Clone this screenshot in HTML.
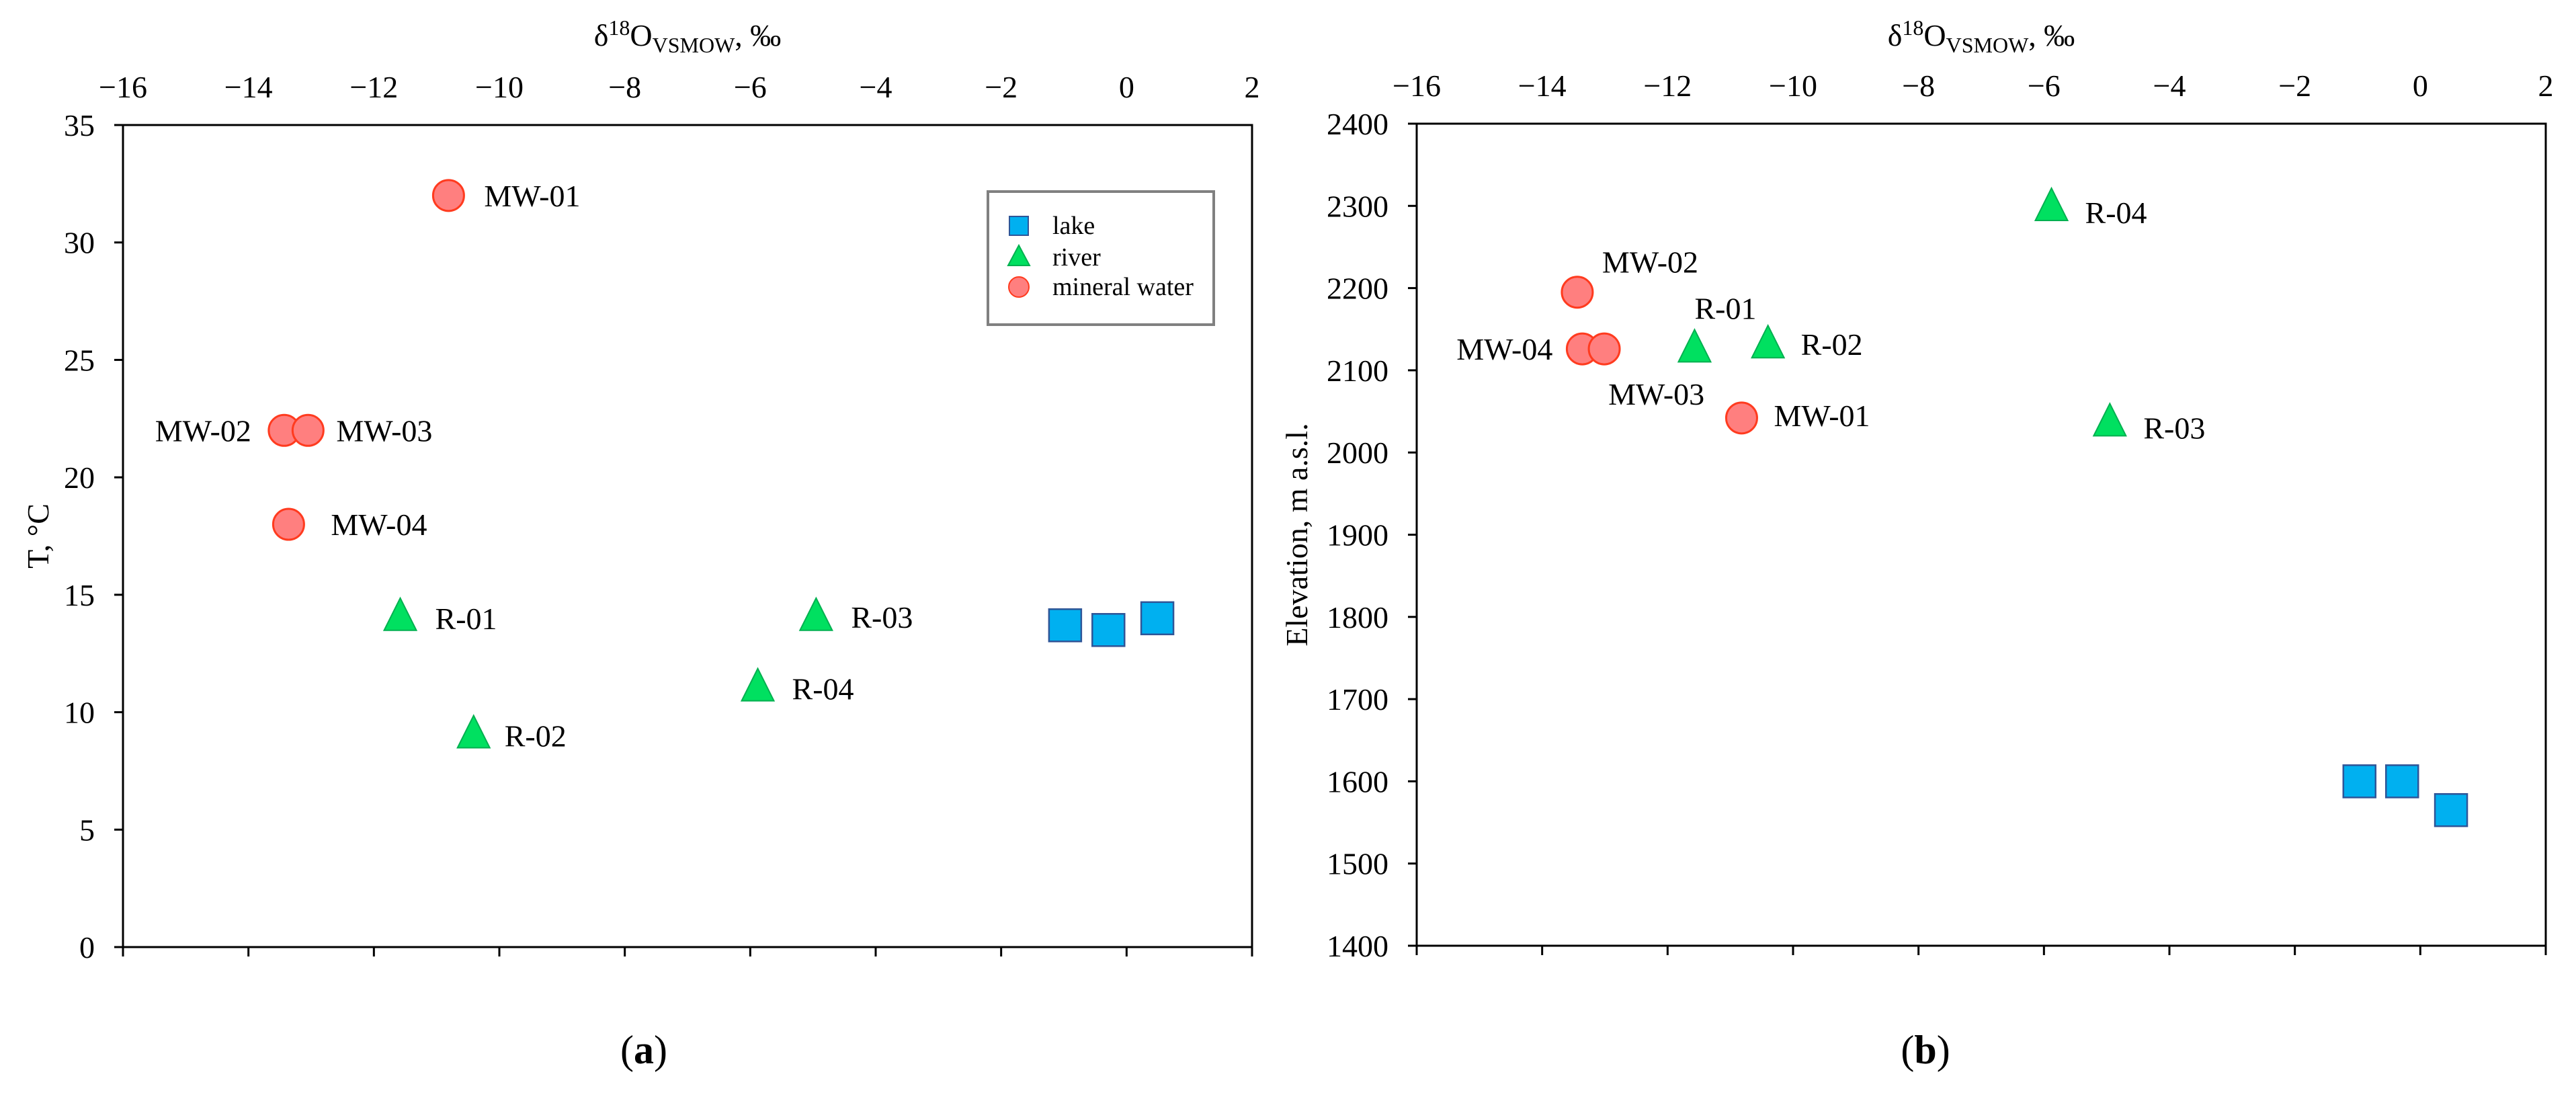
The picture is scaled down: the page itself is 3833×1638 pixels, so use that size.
<!DOCTYPE html>
<html><head><meta charset="utf-8"><style>
html,body{margin:0;padding:0;background:#fff;}
svg{display:block;font-family:"Liberation Serif",serif;}
</style></head><body>
<svg id="fig" width="3833" height="1638" viewBox="0 0 3833 1638" xmlns="http://www.w3.org/2000/svg"></svg>
<script>
// Shared x data
const xTicks=[-16,-14,-12,-10,-8,-6,-4,-2,0,2];
// Panel a data
const aYTicks=[0,5,10,15,20,25,30,35];
const aMwNames=["MW-01","MW-02","MW-03","MW-04"];
const aMwX=[-10.81,-13.43,-13.05,-13.36];
const aMwY=[32,22,22,18];
const aRvNames=["R-01","R-02","R-03","R-04"];
const aRvX=[-11.58,-10.41,-4.95,-5.88];
const aRvY=[14,9,14,11];
const aLakeX=[-0.98,-0.29,0.49];
const aLakeY=[13.7,13.5,14.0];
// Panel b data
const bYTicks=[1400,1500,1600,1700,1800,1900,2000,2100,2200,2300,2400];
const bMwNames=["MW-02","MW-04","MW-03","MW-01"];
const bMwX=[-13.44,-13.36,-13.01,-10.82];
const bMwY=[2195,2126,2126,2042];
const bRvNames=["R-01","R-02","R-04","R-03"];
const bRvX=[-11.57,-10.40,-5.88,-4.95];
const bRvY=[2125,2130,2297,2035];
const bLakeX=[-0.97,-0.29,0.49];
const bLakeY=[1600,1600,1565];

const NS="http://www.w3.org/2000/svg";
const svg=document.getElementById('fig');
function mk(tag,attrs,parent,text){const e=document.createElementNS(NS,tag);for(const k in attrs)e.setAttribute(k,attrs[k]);if(text!==undefined)e.textContent=text;(parent||svg).appendChild(e);return e;}

function panel(o){
  const g=mk('g',{});
  
  
  const sx=v=>o.L+(v-o.xmin)/(o.xmax-o.xmin)*(o.R-o.L);
  const sy=v=>o.B-(v-o.ymin)/(o.ymax-o.ymin)*(o.B-o.T);
  const frame=mk('rect',{x:o.L,y:o.T,width:o.R-o.L,height:o.B-o.T,fill:'none',stroke:'#000','stroke-width':3},g);
  
  
  xTicks.forEach(v=>{
    const x=sx(v);
    const t=mk('line',{x1:x,x2:x,y1:o.B,y2:o.B+14,stroke:'#000','stroke-width':3},g);
    
    
    const lab=mk('text',{x:x,y:o.T-41,'font-size':46,'text-anchor':'middle'},g,v<0?'\u2212'+Math.abs(v):String(v));
    
    
  });
  o.yTicks.forEach(v=>{
    const y=sy(v);
    const t=mk('line',{x1:o.L-13,x2:o.L,y1:y,y2:y,stroke:'#000','stroke-width':3},g);
    
    
    const lab=mk('text',{x:o.L-42,y:y+16,'font-size':46,'text-anchor':'end'},g,String(v));
    
    
  });
  const xt=mk('text',{x:(o.L+o.R)/2,y:68,'font-size':46,'text-anchor':'middle'},g);
  
  
  mk('tspan',{},xt,'δ');
  mk('tspan',{dy:-16,'font-size':32},xt,'18');
  mk('tspan',{dy:16},xt,'O');
  mk('tspan',{dy:10,'font-size':32},xt,'VSMOW');
  mk('tspan',{dy:-10},xt,', ‰');
  const yt=mk('text',{x:0,y:0,'font-size':46,'text-anchor':'middle',transform:`translate(${o.ytx},${(o.T+o.B)/2}) rotate(-90)`},g,o.ytitle);
  
  
  const cap=mk('text',{x:o.capx,y:1582,'font-size':60,'text-anchor':'middle'},g);
  
  
  mk('tspan',{},cap,'(');mk('tspan',{'font-weight':'bold'},cap,o.cap);mk('tspan',{},cap,')');
  // lake
  o.lakeX.forEach((v,i)=>{
    const x=sx(v),y=sy(o.lakeY[i]);
    const r=mk('rect',{x:x-24,y:y-24,width:48,height:48,fill:'#00B0F0',stroke:'#2F5597','stroke-width':2.5},g);
    
    
  });
  // river
  o.rvX.forEach((v,i)=>{
    const x=sx(v),y=sy(o.rvY[i]);
    const p=mk('polygon',{points:`${x},${y-30} ${x-24},${y+18} ${x+24},${y+18}`,fill:'#00E060',stroke:'#00B050','stroke-width':2},g);
    
    
    const d=o.rvOff[i];
    const t=mk('text',{x:x+d[0],y:y+d[1]+16,'font-size':46,'text-anchor':d[2]||'start'},g,o.rvNames[i]);
    
    
  });
  // mineral water
  o.mwX.forEach((v,i)=>{
    const x=sx(v),y=sy(o.mwY[i]);
    const c=mk('ellipse',{cx:x,cy:y,rx:23,ry:23,fill:'#FF7F7F',stroke:'#FF3B1F','stroke-width':3},g);
    
    
    const d=o.mwOff[i];
    const t=mk('text',{x:x+d[0],y:y+d[1]+16,'font-size':46,'text-anchor':d[2]||'start'},g,o.mwNames[i]);
    
    
  });
  return g;
}

panel({name:'panel-a',L:183,R:1863,T:186,B:1409,xmin:-16,xmax:2,ymin:0,ymax:35,yTicks:aYTicks,ytitle:'T, °C',ytx:72,capx:958,cap:'a',
  lakeX:aLakeX,lakeY:aLakeY,rvX:aRvX,rvY:aRvY,rvNames:aRvNames,mwX:aMwX,mwY:aMwY,mwNames:aMwNames,
  rvOff:[[52,0],[46,0],[52,-2],[51,0]],
  mwOff:[[53,0],[-49,0,'end'],[42,0],[63,0]]});
panel({name:'panel-b',L:2108,R:3788,T:184,B:1407,xmin:-16,xmax:2,ymin:1400,ymax:2400,yTicks:bYTicks,ytitle:'Elevation, m a.s.l.',ytx:1945,capx:2865,cap:'b',
  lakeX:bLakeX,lakeY:bLakeY,rvX:bRvX,rvY:bRvY,rvNames:bRvNames,mwX:bMwX,mwY:bMwY,mwNames:bMwNames,
  rvOff:[[0,-62],[49,-2],[50,6],[50,6]],
  mwOff:[[37,-45],[-44,0,'end'],[6,67],[48,-4]]});

// legend panel a
const lg=mk('g',{});


mk('rect',{x:1470,y:285,width:336,height:198,fill:'#fff',stroke:'#808080','stroke-width':4},lg);
const ly=[336,383,427];
const le1=mk('rect',{x:1502,y:ly[0]-14,width:28,height:28,fill:'#00B0F0',stroke:'#2F5597','stroke-width':2},lg);


const le2=mk('polygon',{points:`1516,${ly[1]-18} 1500,${ly[1]+12} 1532,${ly[1]+12}`,fill:'#00E060',stroke:'#00B050','stroke-width':2},lg);


const le3=mk('circle',{cx:1516,cy:ly[2],r:15,fill:'#FF7F7F',stroke:'#FF3B1F','stroke-width':2},lg);


['lake','river','mineral water'].forEach((s,i)=>{
  const t=mk('text',{x:1566,y:ly[i]+12,'font-size':38},lg,s);
  
  
});
</script>
</body></html>
